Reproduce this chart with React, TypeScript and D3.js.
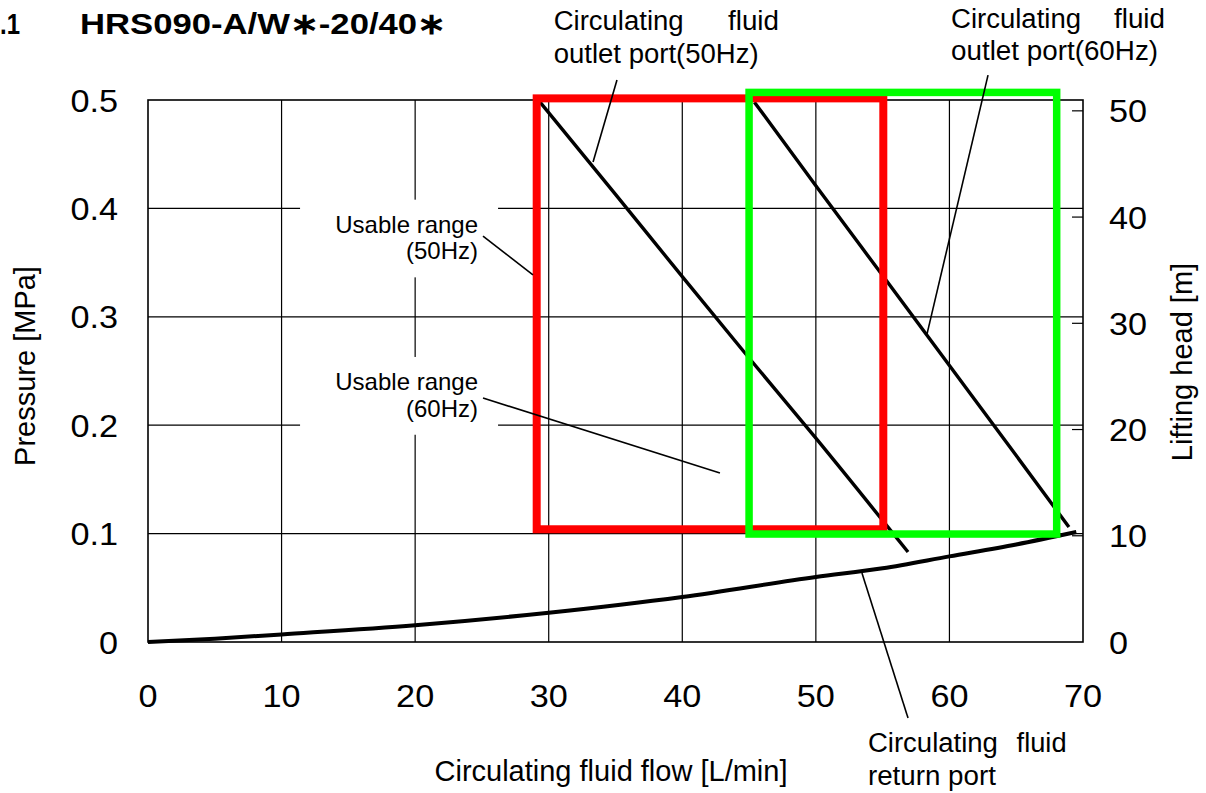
import React from "react";
import * as d3 from "d3";

// ---- data ----
const xTicks = [0, 10, 20, 30, 40, 50, 60, 70];
const xTickLabels = ["0", "10", "20", "30", "40", "50", "60", "70"];
const pTicks = [0, 0.1, 0.2, 0.3, 0.4, 0.5];
const pTickLabels = ["0", "0.1", "0.2", "0.3", "0.4", "0.5"];
const headTicks = [0, 10, 20, 30, 40, 50];
const headTickLabels = ["0", "10", "20", "30", "40", "50"];
const MPA_PER_M = 0.0098;

const outlet50Flow = [29.35, 35, 40, 45, 50, 56.9];
const outlet50P = [0.498, 0.413, 0.337, 0.262, 0.188, 0.083];
const outlet60Flow = [45.4, 50, 55, 60, 65, 68.95];
const outlet60P = [0.498, 0.421, 0.338, 0.255, 0.172, 0.106];
const returnFlow = [0, 5, 10, 20, 30, 40, 50, 55, 60, 65, 69.5];
const returnP = [0, 0.003, 0.007, 0.0155, 0.027, 0.0415, 0.06, 0.068, 0.079, 0.09, 0.1015];

const usable50Flow = [29.1, 55.05];
const usable50P = [0.104, 0.5015];
const usable60Flow = [45.0, 68.03];
const usable60P = [0.0996, 0.507];

// leader lines: [flowA, pA, flowB, pB]
const leaderOutlet50 = [35.11, 0.5185, 33.32, 0.4428];
const leaderOutlet60 = [62.89, 0.523, 58.32, 0.284];
const leaderUsable50 = [25.08, 0.3745, 28.82, 0.3386];
const leaderUsable60 = [25.08, 0.2251, 42.82, 0.1559];
const leaderReturn = [56.9, -0.0701, 53.45, 0.0637];

const W = 1206;
const H = 793;

const charW: Record<string, number> = {
  "0": 0.556, "1": 0.556, "2": 0.556, "3": 0.556, "4": 0.556, "5": 0.556,
  "6": 0.556, "7": 0.556, "8": 0.556, "9": 0.556, ".": 0.278,
};
const strW = (s: string) => s.split("").reduce((a, c) => a + (charW[c] ?? 0.556), 0);

export default function App() {
  const x = d3.scaleLinear().domain([0, 70]).range([148, 1083]);
  const y = d3.scaleLinear().domain([0, 0.5]).range([642, 100]);
  const yHead = (m: number) => y(m * MPA_PER_M);

  const line = d3
    .line<[number, number]>()
    .x((d) => x(d[0]))
    .y((d) => y(d[1]))
    .curve(d3.curveMonotoneX);

  const zip = (a: number[], b: number[]) => a.map((v, i) => [v, b[i]] as [number, number]);

  const font = "'Liberation Sans', Arial, Helvetica, sans-serif";
  const tickSize = 32;
  const stretch = 1.07;
  const annSize = 27;

  const leader = (l: number[], key: string) => (
    <line key={key} x1={x(l[0])} y1={y(l[1])} x2={x(l[2])} y2={y(l[3])} stroke="#000" strokeWidth={1.6} />
  );

  const rect = (fl: number[], pr: number[], color: string, sw: number) => (
    <rect
      x={x(fl[0])}
      y={y(pr[1])}
      width={x(fl[1]) - x(fl[0])}
      height={y(pr[0]) - y(pr[1])}
      fill="none"
      stroke={color}
      strokeWidth={sw}
    />
  );

  const u50 = [24.71, 0.3776, 0.353];
  const u60 = [24.71, 0.2325, 0.2078];

  return (
    <svg
      width={W}
      height={H}
      style={{ position: "absolute", left: 0, top: 0, background: "#fff" }}
      fontFamily={font}
    >
      <rect x={0} y={0} width={W} height={H} fill="#fff" />
      {/* title */}
      <text x={0} y={34} fontSize={30} fontWeight="bold" textLength={20} lengthAdjust="spacingAndGlyphs">.1</text>
      <text x={80} y={34} fontSize={30} fontWeight="bold" textLength={366} lengthAdjust="spacingAndGlyphs">
        HRS090-A/W∗-20/40∗
      </text>

      {/* grid */}
      {xTicks.slice(1, -1).map((t) => (
        <line key={"gx" + t} x1={x(t)} x2={x(t)} y1={y(0.5)} y2={y(0)} stroke="#000" strokeWidth={1.2} />
      ))}
      {pTicks.slice(1, -1).map((t) => (
        <line key={"gy" + t} x1={x(0)} x2={x(70)} y1={y(t)} y2={y(t)} stroke="#000" strokeWidth={1.2} />
      ))}
      {headTicks.slice(1).map((t) => (
        <line key={"ht" + t} x1={x(70) - 11} x2={x(70)} y1={yHead(t)} y2={yHead(t)} stroke="#000" strokeWidth={1.2} />
      ))}
      <rect x={x(0)} y={y(0.5)} width={x(70) - x(0)} height={y(0) - y(0.5)} fill="none" stroke="#000" strokeWidth={1.6} />

      {[u50, u60].map((u, i) => (
        <rect
          key={"bg" + i}
          x={x(u[0]) - 178}
          y={y(u[1]) - 33}
          width={198}
          height={y(u[2]) - y(u[1]) + 51}
          fill="#fff"
        />
      ))}

      {/* curves */}
      <path d={line(zip(returnFlow, returnP)) ?? ""} fill="none" stroke="#000" strokeWidth={4} />
      <path d={line(zip(outlet50Flow, outlet50P)) ?? ""} fill="none" stroke="#000" strokeWidth={3.4} />
      <path d={line(zip(outlet60Flow, outlet60P)) ?? ""} fill="none" stroke="#000" strokeWidth={3.4} />

      {/* usable ranges */}
      {rect(usable50Flow, usable50P, "#ff0000", 8)}
      {rect(usable60Flow, usable60P, "#00ff00", 7.5)}

      {/* leaders */}
      {leader(leaderOutlet50, "l1")}
      {leader(leaderOutlet60, "l2")}
      {leader(leaderUsable50, "l3")}
      {leader(leaderUsable60, "l4")}
      {leader(leaderReturn, "l5")}

      {pTicks.map((t, i) => (
        <text
          key={"pl" + t}
          x={x(0) - 30}
          y={y(t) + 11.5}
          fontSize={tickSize}
          textAnchor="end"
          textLength={strW(pTickLabels[i]) * tickSize * stretch}
          lengthAdjust="spacingAndGlyphs"
        >
          {pTickLabels[i]}
        </text>
      ))}
      {xTicks.map((t, i) => (
        <text
          key={"xl" + t}
          x={x(t)}
          y={y(0) + 65}
          fontSize={tickSize}
          textAnchor="middle"
          textLength={strW(xTickLabels[i]) * tickSize * stretch}
          lengthAdjust="spacingAndGlyphs"
        >
          {xTickLabels[i]}
        </text>
      ))}
      {headTicks.map((t, i) => (
        <text
          key={"hl" + t}
          x={x(70) + 26}
          y={yHead(t) + 11.5}
          fontSize={tickSize}
          textLength={strW(headTickLabels[i]) * tickSize * stretch}
          lengthAdjust="spacingAndGlyphs"
        >
          {headTickLabels[i]}
        </text>
      ))}

      <text x={611} y={781} fontSize={29} textAnchor="middle">
        Circulating fluid flow [L/min]
      </text>
      <text transform={`translate(35,${366}) rotate(-90)`} fontSize={29} textAnchor="middle">
        Pressure [MPa]
      </text>
      <text transform={`translate(1192,${362}) rotate(-90)`} fontSize={29} textAnchor="middle">
        Lifting head [m]
      </text>

      <g fontSize={annSize}>
        <text x={x(30.37)} y={y(0.5646)} textLength={130} lengthAdjust="spacingAndGlyphs">Circulating</text>
        <text x={x(47.24)} y={y(0.5646)} textAnchor="end" textLength={51} lengthAdjust="spacingAndGlyphs">fluid</text>
        <text x={x(30.37)} y={y(0.5341)} textLength={205} lengthAdjust="spacingAndGlyphs">outlet port(50Hz)</text>

        <text x={x(60.12)} y={y(0.5664)} textLength={130} lengthAdjust="spacingAndGlyphs">Circulating</text>
        <text x={x(76.14)} y={y(0.5664)} textAnchor="end" textLength={51} lengthAdjust="spacingAndGlyphs">fluid</text>
        <text x={x(60.12)} y={y(0.5369)} textLength={207} lengthAdjust="spacingAndGlyphs">outlet port(60Hz)</text>

        <text x={x(53.9)} y={y(-0.1015)} textLength={130} lengthAdjust="spacingAndGlyphs">Circulating</text>
        <text x={x(68.77)} y={y(-0.1015)} textAnchor="end" textLength={50} lengthAdjust="spacingAndGlyphs">fluid</text>
        <text x={x(53.9)} y={y(-0.132)} textLength={128} lengthAdjust="spacingAndGlyphs">return port</text>
      </g>
      <g fontSize={24} textAnchor="end">
        <text x={x(u50[0])} y={y(u50[1])}>Usable range</text>
        <text x={x(u50[0])} y={y(u50[2])}>(50Hz)</text>
        <text x={x(u60[0])} y={y(u60[1])}>Usable range</text>
        <text x={x(u60[0])} y={y(u60[2])}>(60Hz)</text>
      </g>
    </svg>
  );
}
